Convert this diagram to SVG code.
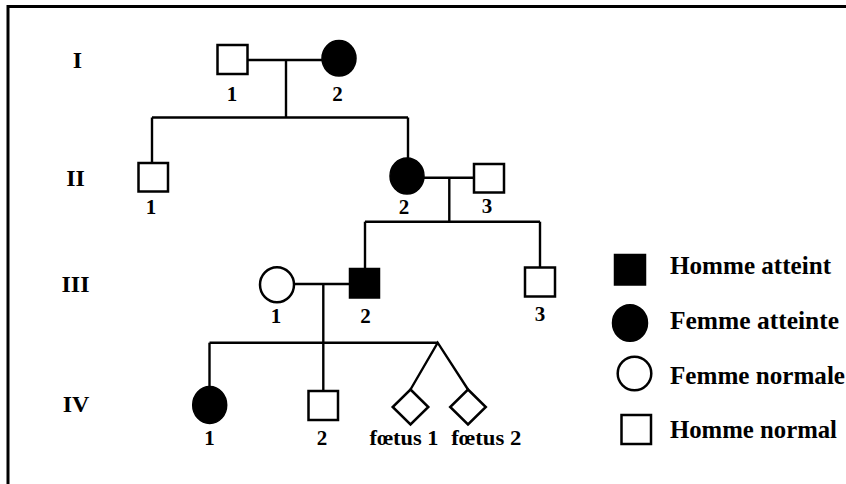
<svg xmlns="http://www.w3.org/2000/svg" width="846" height="484" viewBox="0 0 846 484">
<style>
  .frame{fill:none;stroke:#000;stroke-width:3}
  .ln{fill:none;stroke:#000;stroke-width:2.4}
  .open{fill:#fff;stroke:#000;stroke-width:2.5}
  .aff{fill:#000;stroke:#000;stroke-width:1.5}
  .gen{font-family:"Liberation Serif","Times New Roman",serif;font-weight:bold;font-size:24px;text-anchor:middle;fill:#000}
  .num{font-family:"Liberation Serif","Times New Roman",serif;font-weight:bold;font-size:21px;text-anchor:middle;fill:#000}
  .leg{font-family:"Liberation Serif","Times New Roman",serif;font-weight:bold;font-size:25px;fill:#000}
</style>
<rect width="846" height="484" fill="#fff"/>
<path class="frame" d="M8 484 V6.5 H846"/>

<g id="generations">
  <text class="gen" x="77.5" y="68">I</text>
  <text class="gen" x="75.5" y="186">II</text>
  <text class="gen" x="75.5" y="292">III</text>
  <text class="gen" x="76" y="412">IV</text>
</g>

<g id="connectors">
  <path class="ln" d="M247.5 60 H322"/>
  <path class="ln" d="M286 60 V117.5"/>
  <path class="ln" d="M152 117.5 H408"/>
  <path class="ln" d="M152 117.5 V163"/>
  <path class="ln" d="M408 117.5 V158"/>
  <path class="ln" d="M424 177.7 H474"/>
  <path class="ln" d="M449.3 177.7 V221.7"/>
  <path class="ln" d="M365 221.7 H540"/>
  <path class="ln" d="M365 221.7 V268"/>
  <path class="ln" d="M540 221.7 V267.5"/>
  <path class="ln" d="M294.5 284 H349.5"/>
  <path class="ln" d="M323.3 284 V391"/>
  <path class="ln" d="M209.5 342.7 H437.7"/>
  <path class="ln" d="M209.5 342.7 V386.5"/>
  <path class="ln" d="M410.5 389.5 L437.7 342.7 L468 389.5"/>
</g>

<g id="I-1"><rect class="open" x="217.5" y="45" width="30" height="29"/><text class="num" x="232" y="101">1</text></g>
<g id="I-2"><ellipse class="aff" cx="339" cy="58.3" rx="17" ry="17.8"/><text class="num" x="337.5" y="101">2</text></g>

<g id="II-1"><rect class="open" x="138.5" y="163" width="29.5" height="28.5"/><text class="num" x="151" y="214">1</text></g>
<g id="II-2"><ellipse class="aff" cx="407" cy="176" rx="17" ry="18"/><text class="num" x="404" y="214">2</text></g>
<g id="II-3"><rect class="open" x="474" y="164" width="30" height="28.5"/><text class="num" x="487" y="212.5">3</text></g>

<g id="III-1"><ellipse class="open" cx="277" cy="284.8" rx="17" ry="17.5"/><text class="num" x="276" y="323">1</text></g>
<g id="III-2"><rect class="aff" x="349.5" y="268.5" width="30" height="29.5"/><text class="num" x="365.5" y="323">2</text></g>
<g id="III-3"><rect class="open" x="525" y="267.5" width="30" height="29"/><text class="num" x="540" y="320.5">3</text></g>

<g id="IV-1"><ellipse class="aff" cx="209.7" cy="405" rx="17" ry="18.5"/><text class="num" x="209.5" y="445">1</text></g>
<g id="IV-2"><rect class="open" x="308.5" y="391" width="29.5" height="29"/><text class="num" x="322" y="445">2</text></g>
<g id="foetus-1"><polygon class="open" points="410.5,389.5 428.3,407 410.5,424.5 392.7,407"/><text class="num" x="404" y="445" textLength="69" lengthAdjust="spacingAndGlyphs">fœtus 1</text></g>
<g id="foetus-2"><polygon class="open" points="468,389.5 485.8,407 468,424.5 450.2,407"/><text class="num" x="486.3" y="445" textLength="70" lengthAdjust="spacingAndGlyphs">fœtus 2</text></g>

<g id="legend-homme-atteint"><rect class="aff" x="614.5" y="254.5" width="31" height="30.5"/><text class="leg" x="670" y="274.3" textLength="161" lengthAdjust="spacingAndGlyphs">Homme atteint</text></g>
<g id="legend-femme-atteinte"><ellipse class="aff" cx="630" cy="323" rx="17.5" ry="18.3"/><text class="leg" x="670" y="328.5" textLength="169" lengthAdjust="spacingAndGlyphs">Femme atteinte</text></g>
<g id="legend-femme-normale"><ellipse class="open" cx="634.5" cy="373.5" rx="16.8" ry="16.8"/><text class="leg" x="670" y="383.7" textLength="175" lengthAdjust="spacingAndGlyphs">Femme normale</text></g>
<g id="legend-homme-normal"><rect class="open" x="621.5" y="415" width="29.5" height="29"/><text class="leg" x="670" y="438.3" textLength="167" lengthAdjust="spacingAndGlyphs">Homme normal</text></g>
</svg>
